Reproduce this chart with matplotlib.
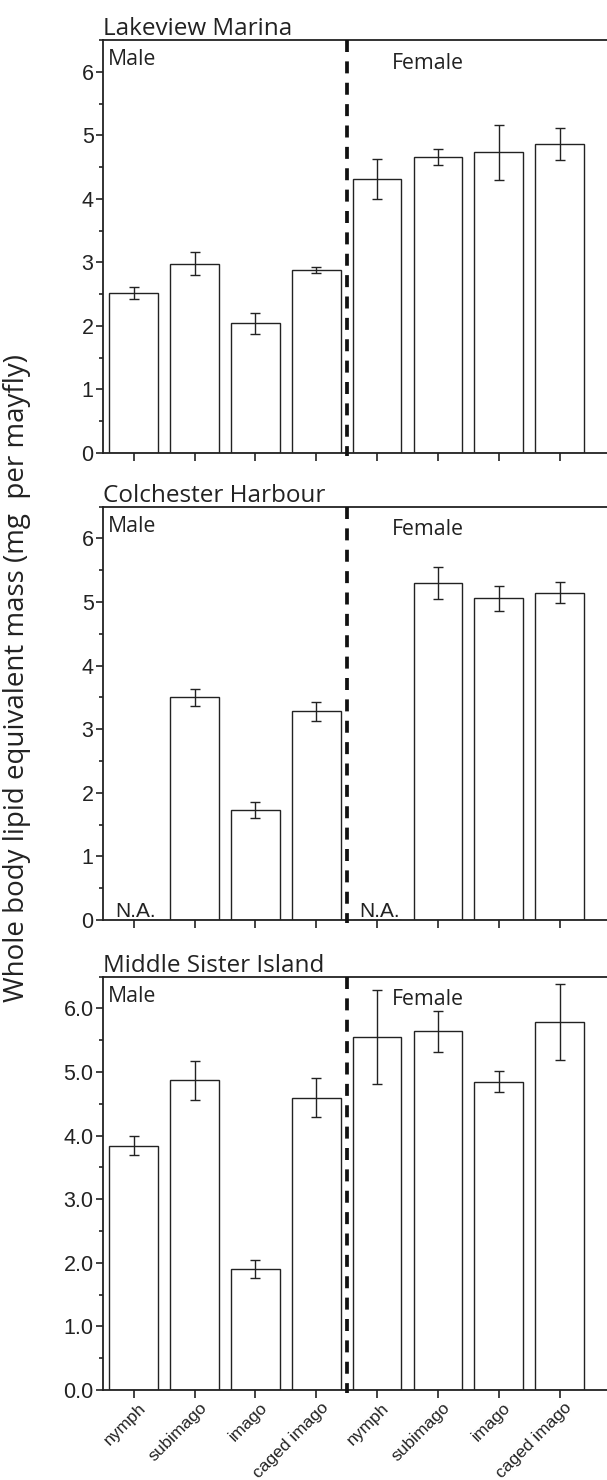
import matplotlib
matplotlib.use("Agg")
import matplotlib.pyplot as plt
import matplotlib.transforms as mtransforms
from matplotlib.ticker import MultipleLocator, FormatStrFormatter
import numpy as np

# Data: male stages then female stages (nan = N.A.)
STAGES = ["nymph", "subimago", "imago", "caged imago"]
SITES = ["Lakeview Marina", "Colchester Harbour", "Middle Sister Island"]

lakeview_mean = [2.52, 2.98, 2.04, 2.88, 4.31, 4.66, 4.73, 4.86]
lakeview_err = [0.09, 0.18, 0.16, 0.05, 0.32, 0.13, 0.44, 0.25]

colchester_mean = [np.nan, 3.50, 1.73, 3.28, np.nan, 5.30, 5.06, 5.15]
colchester_err = [np.nan, 0.13, 0.12, 0.15, np.nan, 0.25, 0.20, 0.16]

middle_mean = [3.84, 4.87, 1.90, 4.60, 5.55, 5.64, 4.85, 5.79]
middle_err = [0.15, 0.31, 0.14, 0.31, 0.74, 0.32, 0.17, 0.60]

MEANS = [lakeview_mean, colchester_mean, middle_mean]
ERRS = [lakeview_err, colchester_err, middle_err]
YFMT = ["%d", "%d", "%.1f"]

INK = "#222222"
TITLE_FONT = "Open Sans"
TICK_FONT = "Liberation Sans"

W, H = 607, 1480
fig = plt.figure(figsize=(W / 100, H / 100), dpi=100)

# (top, bottom) of each panel in pixels
panel_px = [(40, 453), (506.7, 920), (976.7, 1390)]
left_px = 103.3
unit_px = 60.85
x = np.arange(1, 9)

for i, (top, bot) in enumerate(panel_px):
    ax = fig.add_axes([left_px / W, 1 - bot / H, 1 - left_px / W, (bot - top) / H])
    means = np.array(MEANS[i], dtype=float)
    errs = np.array(ERRS[i], dtype=float)

    ax.bar(x, np.nan_to_num(means), width=0.8, color="white",
           edgecolor=INK, linewidth=1.0, zorder=2)
    ok = ~np.isnan(means)
    ax.errorbar(x[ok], means[ok], yerr=errs[ok], fmt="none", ecolor=INK,
                elinewidth=1.0, capsize=3.5, capthick=1.0, zorder=3)
    for xi, m in zip(x, means):
        if np.isnan(m):
            ax.text(xi - 0.3, 0.05, "N.A.", fontsize=15, family=TICK_FONT,
                    color=INK, ha="left", va="baseline")

    # male / female divider, dashes start at the top spine
    ax.plot([4.5, 4.5], [6.5, -0.05], color="#111111", linewidth=2.7,
            linestyle=(0, (3.2, 2.5)), clip_on=False, zorder=4)

    ax.set_xlim(0.5, 0.5 + (W - left_px) / unit_px)
    ax.set_ylim(0, 6.5)
    ax.yaxis.set_major_locator(MultipleLocator(1))
    ax.yaxis.set_minor_locator(MultipleLocator(0.5))
    ax.yaxis.set_major_formatter(FormatStrFormatter(YFMT[i]))
    ax.set_xticks(x)
    ax.tick_params(axis="y", which="major", direction="out", length=5,
                   width=1.2, color=INK, labelsize=15.5, pad=2)
    ax.tick_params(axis="y", which="minor", direction="out", length=3,
                   width=1.2, color=INK)
    ax.tick_params(axis="x", which="major", direction="out", length=6,
                   width=1.2, color=INK, labelsize=12.5, pad=3)
    for lab in ax.get_yticklabels():
        lab.set_family(TICK_FONT)
        lab.set_color(INK)

    if i == 2:
        ax.set_xticklabels(STAGES * 2, rotation=45, ha="right", va="center",
                           rotation_mode="anchor", family=TICK_FONT, color=INK)
        offset = mtransforms.ScaledTranslation(7 / 72, -2 / 72, fig.dpi_scale_trans)
        for lab in ax.get_xticklabels():
            lab.set_transform(lab.get_transform() + offset)
    else:
        ax.set_xticklabels([])

    for side in ["left", "top", "bottom"]:
        ax.spines[side].set_linewidth(1.3)
        ax.spines[side].set_color(INK)
    ax.spines["right"].set_visible(False)

    ax.text(0.0, 1.012, SITES[i], transform=ax.transAxes, fontsize=17.5,
            family=TITLE_FONT, color=INK, ha="left", va="baseline")
    ax.text(0.58, 6.1, "Male", fontsize=15.3, family=TITLE_FONT, color=INK,
            ha="left", va="baseline")
    ax.text(5.25, 6.05, "Female", fontsize=15.3, family=TITLE_FONT, color=INK,
            ha="left", va="baseline")

fig.text(17 / W, 1 - 678 / H, "Whole body lipid equivalent mass (mg  per mayfly)",
         rotation=90, ha="center", va="center", fontsize=20, family=TITLE_FONT,
         color=INK)

fig.savefig("out.png", dpi=100)
